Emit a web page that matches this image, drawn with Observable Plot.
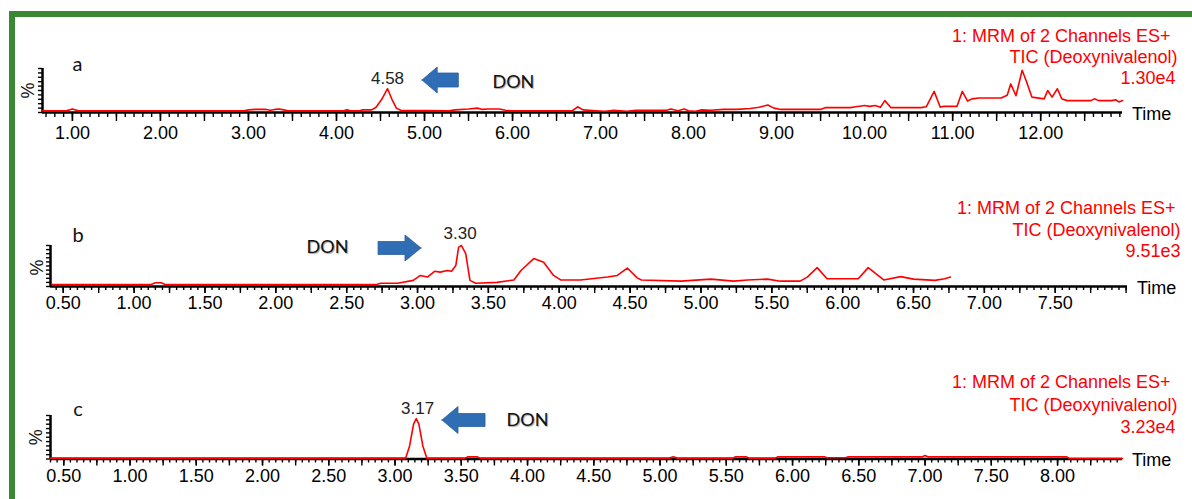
<!DOCTYPE html>
<html><head><meta charset="utf-8">
<script src="https://cdn.jsdelivr.net/npm/d3@7"></script>
<script src="https://cdn.jsdelivr.net/npm/@observablehq/plot@0.6"></script>
<style>
html,body{margin:0;padding:0;background:#fff;}
#wrap{position:relative;width:1192px;height:499px;overflow:hidden;background:#fff;}
#frame{position:absolute;left:9px;top:11px;width:1400px;height:700px;border-left:6px solid #3b8734;border-top:6px solid #3b8734;}
.panel{position:absolute;left:0;}
</style></head><body>
<div id="wrap"><div id="frame"></div></div>
<script>
// ---------- DATA ----------
// Panel a: retention time (min) and relative intensity (%), full scale 1.30e4
const aTime = [0.66, 0.93, 0.97, 1.0, 1.03, 1.07, 2.95, 3.0, 3.08, 3.2,
  3.25, 3.3, 3.35, 3.4, 3.45, 4.08, 4.12, 4.16, 4.26, 4.3,
  4.4, 4.45, 4.52, 4.58, 4.63, 4.68, 4.73, 5.28, 5.35, 5.5,
  5.6, 5.66, 5.72, 5.85, 5.92, 6.0, 6.68, 6.74, 6.8, 6.95,
  7.05, 7.15, 7.3, 7.4, 7.75, 7.8, 7.88, 7.95, 8.0, 8.08,
  8.15, 8.25, 8.4, 8.55, 8.7, 8.8, 8.9, 8.97, 9.05, 9.5,
  9.55, 9.84, 9.9, 10.0, 10.06, 10.12, 10.18, 10.23, 10.3, 10.64,
  10.7, 10.79, 10.86, 10.9, 11.05, 11.11, 11.17, 11.22, 11.3, 11.55,
  11.62, 11.66, 11.72, 11.79, 11.84, 11.9, 12.04, 12.08, 12.13, 12.19,
  12.24, 12.3, 12.57, 12.61, 12.66, 12.81, 12.85, 12.89, 12.93];
const aSignal = [4, 4, 6, 8, 6, 4, 4, 6, 7, 7,
  5, 7, 8, 6, 4, 4, 6, 4, 4, 6,
  6, 12, 32, 54, 30, 10, 5, 4, 6, 8,
  10, 7, 8, 8, 5, 4, 4, 13, 6, 4,
  3, 5, 3, 5, 5, 8, 4, 8, 4, 3,
  6, 5, 7, 7, 9, 12, 17, 10, 7, 7,
  11, 11, 13, 16, 14, 16, 12, 27, 11, 11,
  13, 48, 12, 14, 14, 48, 26, 31, 33, 33,
  39, 65, 38, 96, 70, 35, 31, 50, 35, 54,
  31, 27, 27, 31, 27, 27, 29, 24, 27];

// Panel b: full scale 9.51e3
const bTime = [0.42, 1.12, 1.15, 1.19, 1.22, 2.71, 2.74, 2.86, 2.97, 3.02,
  3.07, 3.12, 3.16, 3.21, 3.24, 3.27, 3.29, 3.31, 3.34, 3.37,
  3.41, 3.56, 3.68, 3.73, 3.82, 3.89, 3.96, 4.01, 4.15, 4.34,
  4.41, 4.48, 4.55, 4.58, 4.86, 5.07, 5.23, 5.33, 5.47, 5.56,
  5.70, 5.75, 5.82, 5.89, 6.11, 6.18, 6.29, 6.41, 6.50, 6.65,
  6.72, 6.76];
const bSignal = [5, 5, 9, 9, 5, 5, 8, 8, 15, 27,
  23, 37, 35, 39, 37, 51, 96, 100, 80, 15,
  8, 10, 16, 39, 68, 59, 27, 16, 16, 23,
  27, 45, 21, 16, 13, 18, 13, 16, 18, 13,
  13, 23, 46, 19, 19, 46, 16, 24, 18, 15,
  19, 23];

// Panel c: full scale 3.23e4
const cTime = [0.40, 3.08, 3.11, 3.14, 3.16, 3.18, 3.21, 3.24, 3.53, 3.55,
  3.62, 3.64, 5.07, 5.10, 5.13, 5.55, 5.57, 5.65, 5.67, 5.87,
  5.89, 6.24, 6.26, 6.40, 6.42, 6.98, 7.0, 7.02, 8.07, 8.09, 8.49];
const cSignal = [2, 2, 30, 80, 93, 80, 30, 2, 2, 5,
  5, 2, 2, 5, 2, 2, 5, 5, 2, 2,
  5, 5, 3, 3, 5, 5, 8, 5, 5, 1, 1];

const panelLetters = ["a", "b", "c"];
const peakTimes = [4.58, 3.30, 3.17];
const headerLine1 = "1: MRM of 2 Channels ES+";
const headerLine2 = "TIC (Deoxynivalenol)";
const fullScales = ["1.30e4", "9.51e3", "3.23e4"];
const analyte = "DON";
const aTickLabels = [1, 2, 3, 4, 5, 6, 7, 8, 9, 10, 11, 12];
const bTickLabels = [0.5, 1.0, 1.5, 2.0, 2.5, 3.0, 3.5, 4.0, 4.5, 5.0, 5.5, 6.0, 6.5, 7.0, 7.5];
const cTickLabels = [0.5, 1.0, 1.5, 2.0, 2.5, 3.0, 3.5, 4.0, 4.5, 5.0, 5.5, 6.0, 6.5, 7.0, 7.5, 8.0];
const yTicks = [0, 10, 20, 30, 40, 50, 60, 70, 80, 90, 100];

// ---------- DRAWING ----------
function every(step, lo, hi) {
  return d3.range(Math.ceil(lo / step - 1e-9), Math.floor(hi / step + 1e-9) + 1).map(i => +(i * step).toFixed(2));
}
const RED = "#ff0000", BLUE = "#2f6db5";
const SANS = "'Liberation Sans', Arial, sans-serif";
const CAL = "Lato, 'Open Sans', sans-serif";

const panels = [
  {time: aTime, signal: aSignal, labels: aTickLabels, domain: [0.66, 12.93], top: 0, height: 150,
   mt: 68, mb: 38, ml: 42, mr: 70, minorStep: 0.1, majorStep: 0.5, minorLen: 5, majorLen: 9, pad: 5,
   letterD: [35, -3.7], pctD: [-14, 0], header: [[48, -32.5], [55, -11.3], [53, 10]],
   peakY: 77, don: [6.01, 68], arrow: {tip: 4.977, base: 5.15, tail: 5.39, c: 72.7, head: 13, shaft: 7}},
  {time: bTime, signal: bSignal, labels: bTickLabels, domain: [0.41, 8.01], top: 150, height: 165,
   mt: 95, mb: 29, ml: 50, mr: 65, minorStep: 0.05, majorStep: 0.25, minorLen: 4, majorLen: 7, pad: 3,
   letterD: [27.7, -9.7], pctD: [-13.7, 1.5], header: [[48, -37], [53, -15], [53, 6]],
   peakY: 129, don: [2.365, 95], arrow: {tip: 3.028, base: 2.915, tail: 2.725, c: 92.7, head: 13, shaft: 6.5}},
  {time: cTime, signal: cSignal, labels: cTickLabels, domain: [0.40, 8.49], top: 315, height: 184,
   mt: 100, mb: 40.5, ml: 50, mr: 70, minorStep: 0.05, majorStep: 0.25, minorLen: 4, majorLen: 7, pad: 3,
   letterD: [27.5, -6.4], pctD: [-14, 0], header: [[48, -33], [55, -10], [53, 12]],
   peakY: 116, don: [4.0, 88.5], arrow: {tip: 3.358, base: 3.479, tail: 3.683, c: 88.5, head: 13.5, shaft: 6.5}}
];

const wrap = document.getElementById("wrap");
panels.forEach((p, k) => {
  const data = p.time.map((t, i) => ({t, v: p.signal[i]}));
  const [x0, x1] = p.domain;
  const pxPct = (p.height - p.mt - p.mb) / 100;
  const a = p.arrow, hh = a.head / pxPct, sh = a.shaft / pxPct;
  const arrowPts = [
    {x: a.tip, y1: a.c, y2: a.c},
    {x: a.base, y1: a.c - hh, y2: a.c + hh},
    {x: a.base, y1: a.c - sh, y2: a.c + sh},
    {x: a.tail, y1: a.c - sh, y2: a.c + sh}
  ];
  const headerTexts = [headerLine1, headerLine2, fullScales[k]];
  const plot = Plot.plot({
    width: 1192, height: p.height,
    marginTop: p.mt, marginBottom: p.mb, marginLeft: p.ml, marginRight: p.mr,
    x: {domain: p.domain, label: null},
    y: {domain: [0, 100], label: null},
    style: {fontFamily: SANS, fontSize: "18px", color: "#000", background: "transparent", overflow: "visible"},
    marks: [
      Plot.axisX({ticks: every(p.minorStep, x0, x1), tickSize: p.minorLen, tickFormat: () => "", strokeWidth: 1.4, label: null}),
      Plot.axisX({ticks: every(p.majorStep, x0, x1), tickSize: p.majorLen, tickFormat: () => "", strokeWidth: 1.4, label: null}),
      Plot.axisX({ticks: p.labels, tickSize: p.majorLen, tickPadding: p.pad, tickFormat: d3.format(".2f"), strokeWidth: 1.4, fontSize: 18, label: null}),
      Plot.axisY({ticks: yTicks, tickSize: 4, tickFormat: () => "", strokeWidth: 1.4, label: null}),
      Plot.ruleY([0], {stroke: "#000", strokeWidth: 2.5}),
      Plot.ruleX([x0], {y1: 0, y2: 100, stroke: "#000", strokeWidth: 2.5}),
      Plot.line(data, {x: "t", y: "v", stroke: RED, strokeWidth: 1.6}),
      Plot.text([panelLetters[k]], {frameAnchor: "top-left", lineAnchor: "middle", dx: p.letterD[0], dy: p.letterD[1], fontFamily: CAL, fontSize: 20, textAnchor: "middle", fill: "#111"}),
      Plot.text(["%"], {frameAnchor: "left", lineAnchor: "middle", dx: p.pctD[0], dy: p.pctD[1], rotate: -90, fontSize: 18, textAnchor: "middle", fill: "#111"}),
      Plot.text(["Time"], {frameAnchor: "bottom-right", lineAnchor: "middle", dx: 9.5, dy: 1.5, textAnchor: "start", fontSize: 18, fill: "#000"}),
      ...headerTexts.map((s, j) => Plot.text([s], {frameAnchor: "top-right", lineAnchor: "middle", dx: p.header[j][0], dy: p.header[j][1], textAnchor: "end", fontSize: 18, fill: RED})),
      Plot.text([peakTimes[k]], {x: d => d, y: () => p.peakY, text: d => d3.format(".2f")(d), lineAnchor: "middle", fontSize: 17, fill: "#222"}),
      Plot.areaY(arrowPts, {x: "x", y1: "y1", y2: "y2", fill: BLUE, stroke: "#2a5e9c", strokeWidth: 0.8}),
      Plot.text([analyte], {x: () => p.don[0], y: () => p.don[1], lineAnchor: "middle", fontFamily: CAL, fontSize: 18, fill: "#111"})
    ]
  });
  plot.classList.add("panel");
  plot.style.top = p.top + "px";
  d3.select(plot).selectAll("text").filter(function() { return this.textContent === analyte; })
    .style("text-shadow", "1px 1px 1px rgba(0,0,0,0.35)");
  wrap.appendChild(plot);
});
</script>
</body></html>
